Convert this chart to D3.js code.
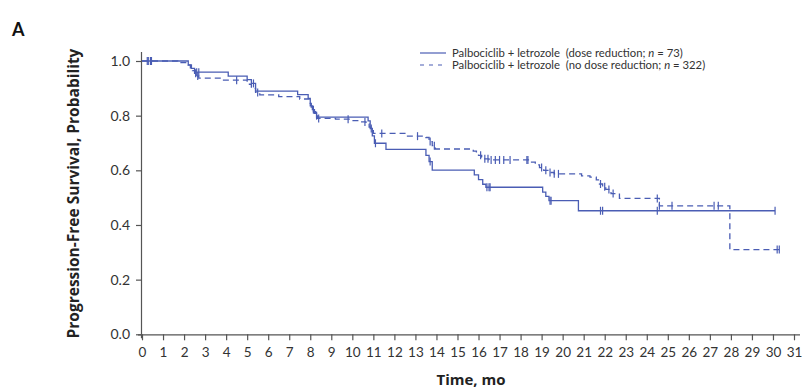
<!DOCTYPE html>
<html><head><meta charset="utf-8">
<script src="https://cdn.jsdelivr.net/npm/d3@7"></script>
<style>body{margin:0;background:#fff}svg{display:block}</style>
</head><body><svg id="c" width="802" height="390"></svg>
<script>
// ---- data ----
const xTicks = d3.range(0, 32);
const yTicks = [0, 0.2, 0.4, 0.6, 0.8, 1.0];
const seriesNames = ["Palbociclib + letrozole  (dose reduction; ", "Palbociclib + letrozole  (no dose reduction; "];
const seriesN = [73, 322];

// dose reduction: [time, survival after event]
const doseRedTimes = [0, 2.2, 2.35, 2.5, 4.1, 5.0, 5.2, 5.4, 7.4, 7.9, 8.0, 8.1, 8.2, 8.3, 10.75, 10.85, 10.95, 11.05, 11.6, 13.5, 13.65, 13.8, 15.8, 16.0, 16.2, 16.35, 19.05, 19.2, 19.35, 20.75, 30.1];
const doseRedSurv  = [1, 0.986, 0.973, 0.959, 0.945, 0.932, 0.918, 0.890, 0.877, 0.863, 0.836, 0.822, 0.808, 0.795, 0.781, 0.753, 0.726, 0.699, 0.677, 0.655, 0.632, 0.601, 0.583, 0.566, 0.549, 0.538, 0.520, 0.505, 0.489, 0.452, 0.452];
const doseRedCens  = [0.3, 0.45, 2.6, 2.7, 5.3, 8.15, 10.9, 11.1, 13.7, 16.4, 16.5, 16.55, 19.4, 19.45, 21.8, 21.9, 24.5, 30.1];

// no dose reduction
const noRedTimes = [0, 1.7, 2.2, 2.3, 2.4, 2.5, 2.6, 2.7, 3.8, 5.0, 5.2, 5.4, 5.6, 6.5, 7.5, 7.95, 8.05, 8.15, 8.25, 8.35, 9.2, 9.9, 10.3, 10.65, 10.8, 10.9, 11.0, 12.5, 13.5, 13.65, 13.8, 13.95, 15.75, 15.9, 16.0, 16.15, 16.3, 16.5, 18.45, 18.7, 18.9, 19.1, 19.3, 19.6, 20.9, 21.3, 21.6, 21.75, 21.9, 22.05, 22.3, 22.7, 24.6, 27.95, 30.3];
const noRedSurv  = [1, 0.994, 0.985, 0.975, 0.965, 0.955, 0.945, 0.937, 0.930, 0.915, 0.900, 0.885, 0.876, 0.870, 0.861, 0.845, 0.830, 0.815, 0.800, 0.790, 0.787, 0.782, 0.777, 0.770, 0.758, 0.745, 0.735, 0.725, 0.720, 0.705, 0.690, 0.678, 0.670, 0.662, 0.655, 0.648, 0.642, 0.638, 0.630, 0.620, 0.610, 0.600, 0.592, 0.587, 0.580, 0.575, 0.565, 0.550, 0.540, 0.530, 0.515, 0.497, 0.470, 0.310, 0.310];
const noRedCens  = [0.25, 0.4, 2.55, 2.65, 4.5, 5.5, 8.3, 8.4, 9.8, 10.6, 11.4, 13.1, 13.7, 13.9, 16.1, 16.3, 16.45, 16.6, 16.8, 17.0, 17.2, 17.5, 18.3, 18.35, 19.0, 19.2, 19.4, 19.6, 19.8, 21.8, 22.0, 22.2, 22.4, 24.5, 24.6, 25.2, 27.2, 27.4, 30.2, 30.3];

// ---- drawing ----
const color = "#4a5db4";
const axisCol = "#555";
const font = "Lato, 'Open Sans', sans-serif";
const svg = d3.select("#c");
const x = d3.scaleLinear().domain([0, 31]).range([142, 794]);
const y = d3.scaleLinear().domain([0, 1]).range([334.3, 61]);

// axes
const gx = svg.append("g").attr("transform", `translate(0,${y(0)})`)
  .call(d3.axisBottom(x).tickValues(xTicks).tickSize(6).tickPadding(7).tickFormat(d3.format("d")));
gx.select(".domain").attr("d", `M${x(0)-4},0.5H800`);
const gy = svg.append("g").attr("transform", `translate(${x(0)},0)`)
  .call(d3.axisLeft(y).tickValues(yTicks).tickSize(6).tickPadding(6).tickFormat(d3.format(".1f")));
gy.select(".domain").attr("d", `M-0.5,52V${y(0)+4}`);
[gx, gy].forEach(g => {
  g.selectAll("path,line").attr("stroke", axisCol).attr("stroke-width", 1.2);
  g.selectAll("text").attr("fill", "#333").attr("font-family", font);
});
gx.selectAll("text").attr("font-size", 13.5);
gy.selectAll("text").attr("font-size", 14);

// curves
function drawKM(times, surv, cens, dash) {
  const pts = times.map((t, i) => [t, surv[i]]);
  const line = d3.line().x(d => x(d[0])).y(d => y(d[1])).curve(d3.curveStepAfter);
  svg.append("path").attr("d", line(pts)).attr("fill", "none").attr("stroke", color)
    .attr("stroke-width", 1.3).attr("stroke-dasharray", dash);
  const bis = d3.bisector(d => d).right;
  svg.append("g").selectAll("line").data(cens).join("line")
    .attr("x1", d => x(d)).attr("x2", d => x(d))
    .attr("y1", d => y(surv[Math.max(0, bis(times, d) - 1)]) - 4)
    .attr("y2", d => y(surv[Math.max(0, bis(times, d) - 1)]) + 4)
    .attr("stroke", color).attr("stroke-width", 1.2);
}
drawKM(noRedTimes, noRedSurv, noRedCens, "6,4");
drawKM(doseRedTimes, doseRedSurv, doseRedCens, null);

// titles
svg.append("text").attr("x", 12).attr("y", 36).text("A")
  .attr("font-family", font).attr("font-weight", "bold").attr("font-size", 18).attr("fill", "#111");
svg.append("text").attr("transform", `translate(79,${(45+342)/2}) rotate(-90)`).attr("text-anchor", "middle")
  .text("Progression-Free Survival, Probability")
  .attr("font-family", "'Open Sans', sans-serif").attr("font-weight", "bold").attr("font-size", 15.5).attr("fill", "#222");
svg.append("text").attr("x", 471).attr("y", 385).attr("text-anchor", "middle").text("Time, mo")
  .attr("font-family", "'Open Sans', sans-serif").attr("font-weight", "bold").attr("font-size", 15).attr("fill", "#222");

// legend
const leg = svg.append("g");
[0, 1].forEach(i => {
  const yy = 53 + i * 12;
  leg.append("line").attr("x1", 420).attr("x2", 446).attr("y1", yy).attr("y2", yy)
    .attr("stroke", color).attr("stroke-width", 1.2).attr("stroke-dasharray", i ? "4,5" : null);
  const t = leg.append("text").attr("x", 452).attr("y", yy + 4).attr("font-family", font)
    .attr("font-size", 11.3).attr("fill", "#333").style("white-space", "pre");
  t.append("tspan").text(seriesNames[i]);
  t.append("tspan").attr("font-style", "italic").text("n");
  t.append("tspan").text(" = " + seriesN[i] + ")");
});
</script></body></html>
